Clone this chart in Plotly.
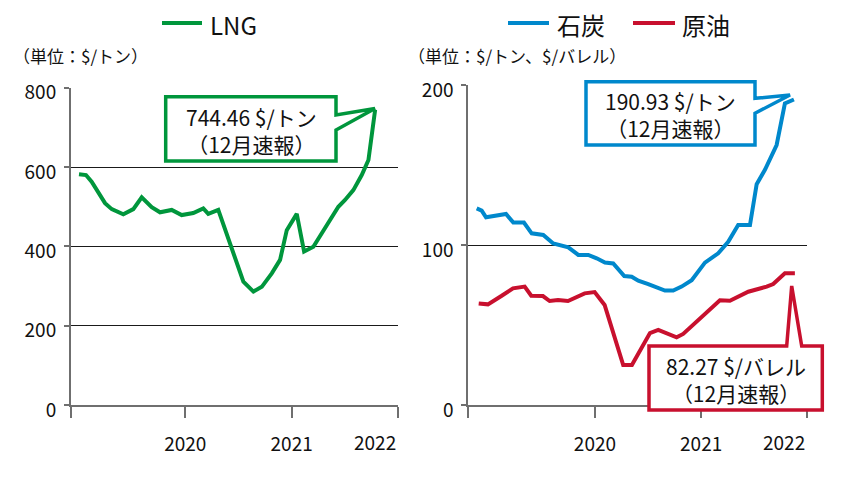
import plotly.graph_objects as go

# ---------------- data ----------------
lng_x = [2019.000, 2019.066, 2019.119, 2019.182, 2019.245, 2019.308, 2019.417, 2019.511,
         2019.590, 2019.684, 2019.762, 2019.872, 2019.966, 2020.075, 2020.169, 2020.216,
         2020.310, 2020.546, 2020.640, 2020.719, 2020.813, 2020.891, 2020.954, 2021.048,
         2021.117, 2021.204, 2021.314, 2021.439, 2021.502, 2021.580, 2021.659, 2021.722,
         2021.785]
lng_y = [582, 580, 563, 534, 509, 494, 481, 494, 524, 499, 486, 492, 479, 484, 496, 482,
         492, 311, 286, 298, 332, 366, 441, 482, 387, 399, 446, 500, 517, 542, 580, 618,
         744.46]

coal_x = [2018.886, 2018.933, 2018.974, 2019.162, 2019.231, 2019.331, 2019.404, 2019.513,
          2019.607, 2019.749, 2019.843, 2019.937, 2020.016, 2020.094, 2020.172, 2020.276,
          2020.346, 2020.408, 2020.502, 2020.596, 2020.659, 2020.737, 2020.816, 2020.911,
          2021.036, 2021.161, 2021.255, 2021.349, 2021.460, 2021.523, 2021.601, 2021.711,
          2021.789, 2021.874]
coal_y = [122.9, 121.5, 117.3, 119.4, 114.0, 114.0, 107.3, 106.3, 101.0, 98.5, 93.8, 93.8,
          91.7, 89.0, 88.5, 80.6, 80.2, 77.7, 75.6, 72.9, 71.5, 71.5, 74.0, 78.0, 89.0, 94.8,
          102.0, 112.5, 112.5, 138.0, 147.0, 162.5, 188.5, 190.93]

oil_x = [2018.905, 2018.992, 2019.118, 2019.228, 2019.338, 2019.400, 2019.510, 2019.573,
         2019.652, 2019.746, 2019.903, 2019.997, 2020.091, 2020.266, 2020.348, 2020.518,
         2020.596, 2020.769, 2020.831, 2021.020, 2021.177, 2021.271, 2021.444, 2021.617,
         2021.679, 2021.789, 2021.883]
oil_y = [63.5, 62.9, 68.1, 72.9, 74.0, 68.3, 68.1, 65.0, 65.6, 65.0, 69.8, 70.6, 62.5,
         25.0, 25.0, 45.0, 46.9, 42.3, 44.4, 55.6, 65.5, 65.2, 70.8, 74.0, 75.6, 82.27, 82.27]

year_ticks = [2020, 2021, 2022]
year_labels = ["2020", "2021", "2022"]
lng_yticks = [0, 200, 400, 600, 800]
right_yticks = [0, 100, 200]

# ---------------- style ----------------
OFF = 8                       # page body margin
W, H = 850 - OFF, 485 - OFF   # figure size
GREEN = "#00963c"
BLUE = "#0088cc"
RED = "#c8102e"
AX = "#6f6f6f"
FONT = "Noto Sans CJK JP"
TICK_SIZE = 19

def fx(px):
    return (px - OFF) / W

def fy(py):
    return 1 - (py - OFF) / H

fig = go.Figure()
fig.add_trace(go.Scatter(x=lng_x, y=lng_y, mode="lines", line=dict(color=GREEN, width=4),
                         xaxis="x", yaxis="y", showlegend=False))
fig.add_trace(go.Scatter(x=coal_x, y=coal_y, mode="lines", line=dict(color=BLUE, width=4),
                         xaxis="x2", yaxis="y2", showlegend=False))
fig.add_trace(go.Scatter(x=oil_x, y=oil_y, mode="lines", line=dict(color=RED, width=4),
                         xaxis="x2", yaxis="y2", showlegend=False))

xl_range = [2018.925, 2022.0]
xr_range = [2018.807, 2022.0]

def xaxis_cfg(domain, rng, anchor):
    return dict(domain=domain, range=rng, anchor=anchor, automargin=False,
                tickmode="array", tickvals=[rng[0]] + year_ticks,
                ticktext=[""] + year_labels[:-1] + [""],
                ticks="outside", ticklen=11, tickwidth=2, tickcolor=AX,
                showline=True, linecolor=AX, linewidth=2,
                showgrid=False, zeroline=False,
                ticklabelstandoff=10,
                tickfont=dict(family=FONT, size=TICK_SIZE, color="#111"))

def yaxis_cfg(domain, rng, ticks, anchor):
    return dict(domain=domain, range=rng, anchor=anchor, automargin=False,
                tickmode="array", tickvals=ticks,
                ticks="outside", ticklen=5, tickwidth=1.5, tickcolor=AX,
                showline=True, linecolor=AX, linewidth=2,
                showgrid=True, gridcolor="#1a1a1a", gridwidth=1,
                zeroline=False, ticklabelstandoff=4, ticklabelshift=5,
                tickfont=dict(family=FONT, size=TICK_SIZE, color="#111"))

fig.update_layout(
    template="none",
    width=W, height=H,
    margin=dict(l=0, r=0, t=0, b=0, pad=0),
    paper_bgcolor="white", plot_bgcolor="white",
    xaxis=xaxis_cfg([fx(71), fx(398)], xl_range, "y"),
    yaxis=yaxis_cfg([fy(405), fy(87.8)], [0, 800], lng_yticks, "x"),
    xaxis2=xaxis_cfg([fx(468.3), fx(807.3)], xr_range, "y2"),
    yaxis2=yaxis_cfg([fy(405), fy(85)], [0, 200], right_yticks, "x2"),
    font=dict(family=FONT),
    showlegend=False,
)

shapes = []
def path(points):
    return "M " + " L ".join(f"{fx(x):.5f},{fy(y):.5f}" for x, y in points) + " Z"

# callouts
shapes.append(dict(type="path", xref="paper", yref="paper", layer="above",
                   path=path([(165.7, 96.7), (336, 96.7), (336, 115), (375, 108.5),
                              (336, 130), (336, 161), (165.7, 161)]),
                   line=dict(color=GREEN, width=3.5), fillcolor="white"))
shapes.append(dict(type="path", xref="paper", yref="paper", layer="above",
                   path=path([(586, 81.7), (755, 81.7), (755, 98.3), (790, 95),
                              (755, 113.3), (755, 145), (586, 145)]),
                   line=dict(color=BLUE, width=3.5), fillcolor="white"))
shapes.append(dict(type="path", xref="paper", yref="paper", layer="above",
                   path=path([(649, 346), (786.7, 346), (791.7, 286), (801.7, 346),
                              (822.3, 346), (822.3, 410), (649, 410)]),
                   line=dict(color=RED, width=3.5), fillcolor="white"))

# legend lines
for x0, x1, c in [(162, 202, GREEN), (508, 549, BLUE), (633, 675, RED)]:
    shapes.append(dict(type="line", xref="paper", yref="paper",
                       x0=fx(x0), x1=fx(x1), y0=fy(23), y1=fy(23),
                       line=dict(color=c, width=4)))
fig.update_layout(shapes=shapes)

ann = []
def text(x, y, s, size, xanchor="center", yanchor="middle"):
    ann.append(dict(x=fx(x), y=fy(y), xref="paper", yref="paper", text=s, showarrow=False,
                    xanchor=xanchor, yanchor=yanchor, align="center",
                    font=dict(family=FONT, size=size, color="#111")))

text(208, 24, "LNG", 24, "left")
text(555, 24, "石炭", 24, "left")
text(680, 24, "原油", 24, "left")
text(80, 55, "（単位：$/トン）", 17)
text(517, 55, "（単位：$/トン、$/バレル）", 17)
text(251, 130, "744.46 $/トン<br>（12月速報）", 21)
text(670.5, 114, "190.93 $/トン<br>（12月速報）", 21)
text(735.5, 379, "82.27 $/バレル<br>（12月速報）", 21)
# right-aligned 2022 labels
for xr in ["x", "x2"]:
    ann.append(dict(x=2022, y=fy(441), xref=xr, yref="paper", text="2022", showarrow=False,
                    xanchor="right", yanchor="middle",
                    font=dict(family=FONT, size=TICK_SIZE, color="#111")))
fig.update_layout(annotations=ann)

fig.write_html("out.html")
